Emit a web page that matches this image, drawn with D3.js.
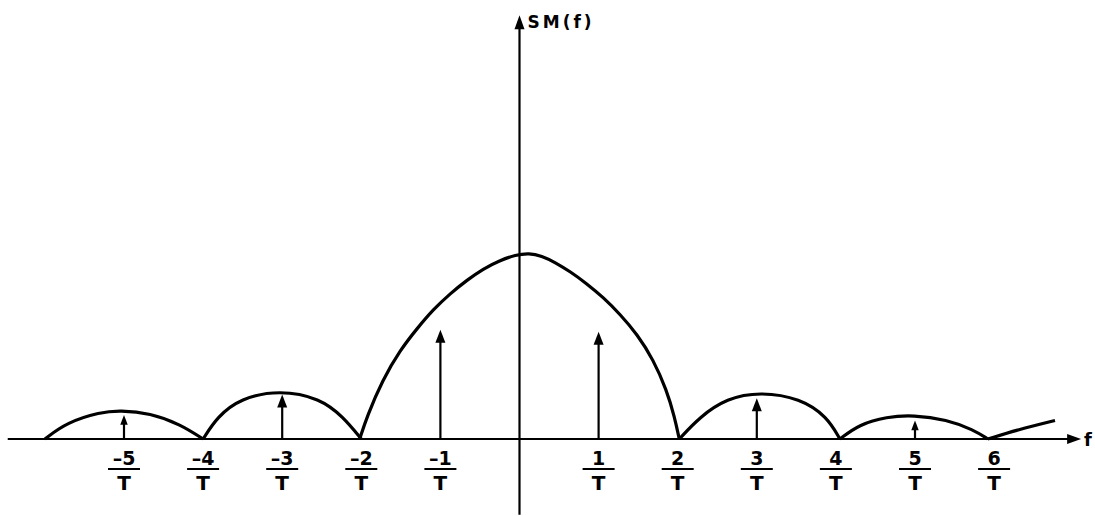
<!DOCTYPE html>
<html lang="en-US">
<head>
    <script src="https://d3js.org/d3.v7.min.js"></script>
</head>
<body style="margin:0; background:#fff;">
<style>
    svg text {
        font-family: "DejaVu Sans", "Liberation Sans", sans-serif;
        font-weight: bold;
        fill: #000;
    }
</style>

<svg width="1095" height="516"></svg>

<script>
// tick labels along the f axis (numerator over T)
var tickValues = [-5, -4, -3, -2, -1, 1, 2, 3, 4, 5, 6];
var tickLabels = ["-5", "-4", "-3", "-2", "-1", "1", "2", "3", "4", "5", "6"];

// impulses at odd multiples of 1/T
var impulseFreqs = [-5, -3, -1, 1, 3, 5];
var impulseHeights = [0.13, 0.24, 0.59, 0.58, 0.22, 0.10];

// envelope lobes (f in units of 1/T, height relative to the main peak)
var lobe1F = [-6, -5.72, -5.3, -5.05, -4.67, -4.29, -4];
var lobe1V = [0, 0.09, 0.145, 0.155, 0.14, 0.08, 0];
var lobe2F = [-4, -3.82, -3.53, -3.03, -2.52, -2.23, -2];
var lobe2V = [0, 0.12, 0.22, 0.265, 0.22, 0.12, 0];
var mainF = [-2.02, -1.93, -1.73, -1.51, -1.29, -1.09, -0.88, -0.66, -0.46, -0.25, -0.05, 0.12,
             0.28, 0.45, 0.64, 0.85, 1.06, 1.27, 1.49, 1.69, 1.86, 1.96, 2.02];
var mainV = [0, 0.12, 0.32, 0.48, 0.6, 0.7, 0.785, 0.86, 0.92, 0.965, 0.995, 1.005,
             0.99, 0.955, 0.905, 0.84, 0.765, 0.675, 0.565, 0.43, 0.265, 0.12, 0];
var lobe3F = [2.02, 2.28, 2.62, 3.04, 3.55, 3.89, 4.05];
var lobe3V = [0, 0.12, 0.22, 0.255, 0.22, 0.12, 0];
var lobe4F = [4.05, 4.3, 4.64, 4.98, 5.4, 5.74, 5.92];
var lobe4V = [0, 0.08, 0.12, 0.13, 0.105, 0.05, 0];
var tailF = [5.92, 6.3, 6.77];
var tailV = [0, 0.05, 0.1];

var svg = d3.select("svg");

var x = d3.scaleLinear().domain([-5, 5]).range([124, 915]);
var y = d3.scaleLinear().domain([0, 1]).range([439, 254]);

// axes
var xAxisExtent = [-6.47, 7.1];
var yAxisExtent = [-0.41, 2.29];

svg.append("line")
    .attr("x1", x(xAxisExtent[0])).attr("x2", x(xAxisExtent[1]) - 6)
    .attr("y1", y(0)).attr("y2", y(0))
    .attr("stroke", "#000").attr("stroke-width", 2.2);
svg.append("path")
    .attr("d", d3.line()([[x(xAxisExtent[1]), y(0)], [x(xAxisExtent[1]) - 14, y(0) - 5], [x(xAxisExtent[1]) - 14, y(0) + 5]]))
    .attr("fill", "#000");
svg.append("text")
    .attr("x", x(xAxisExtent[1]) + 3).attr("y", y(0) + 7)
    .attr("font-size", 18)
    .text("f");

svg.append("line")
    .attr("x1", x(0)).attr("x2", x(0))
    .attr("y1", y(yAxisExtent[0])).attr("y2", y(yAxisExtent[1]) + 6)
    .attr("stroke", "#000").attr("stroke-width", 2.2);
svg.append("path")
    .attr("d", d3.line()([[x(0), y(yAxisExtent[1])], [x(0) - 5, y(yAxisExtent[1]) + 14], [x(0) + 5, y(yAxisExtent[1]) + 14]]))
    .attr("fill", "#000");
svg.append("text")
    .attr("x", x(0) + 8).attr("y", y(yAxisExtent[1]) + 13)
    .attr("font-size", 17)
    .attr("letter-spacing", 3)
    .text("SM(f)");

// envelope
var lobes = [[lobe1F, lobe1V], [lobe2F, lobe2V], [mainF, mainV], [lobe3F, lobe3V], [lobe4F, lobe4V], [tailF, tailV]];
var envelope = d3.line()
    .x(d => x(d[0]))
    .y(d => y(d[1]))
    .curve(d3.curveBasis);

svg.append("g").selectAll("path")
    .data(lobes.map(l => d3.zip(l[0], l[1])))
    .enter().append("path")
    .attr("d", envelope)
    .attr("fill", "none")
    .attr("stroke", "#000")
    .attr("stroke-width", 3.2)
    .attr("stroke-linejoin", "round");

// impulses
var impulses = svg.append("g").selectAll("g")
    .data(d3.zip(impulseFreqs, impulseHeights))
    .enter().append("g");

impulses.append("line")
    .attr("x1", d => x(d[0])).attr("x2", d => x(d[0]))
    .attr("y1", y(0)).attr("y2", d => y(d[1]) + 6)
    .attr("stroke", "#000").attr("stroke-width", 2.2);
impulses.append("path")
    .attr("d", d => {
        var s = d[1] > 0.2 ? 1 : 0.75;
        var cx = x(d[0]), cy = y(d[1]);
        return d3.line()([[cx, cy], [cx - 5 * s, cy + 13 * s], [cx + 5 * s, cy + 13 * s]]);
    })
    .attr("fill", "#000");

// fraction tick labels
var ticks = svg.append("g").selectAll("g")
    .data(d3.zip(tickValues, tickLabels))
    .enter().append("g")
    .attr("transform", d => `translate(${x(d[0])}, 0)`);

ticks.append("text")
    .attr("text-anchor", "middle")
    .attr("y", 465)
    .attr("font-size", 19)
    .text(d => d[1].replace("-", "\u2013"));
ticks.append("line")
    .attr("x1", -16).attr("x2", 16)
    .attr("y1", 469).attr("y2", 469)
    .attr("stroke", "#000").attr("stroke-width", 2);
ticks.append("text")
    .attr("text-anchor", "middle")
    .attr("y", 490)
    .attr("font-size", 20)
    .text("T");
</script>
</body>
</html>
